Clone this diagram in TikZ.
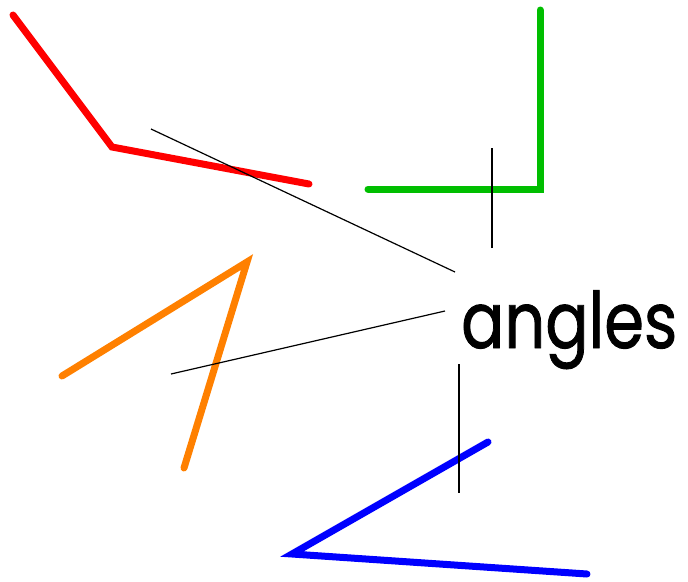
\documentclass[tikz,border=0pt]{standalone}
\usepackage{fontspec}
\setmainfont{Poppins}[FakeBold=1.2]
\usepackage{xcolor}
\usepackage{tikz}
\usetikzlibrary{calc}
\definecolor{angred}{RGB}{255,0,0}
\definecolor{anggreen}{RGB}{0,190,0}
\definecolor{angorange}{RGB}{255,128,0}
\definecolor{angblue}{RGB}{0,0,255}

\begin{document}
\begin{tikzpicture}[x=1pt,y=-1pt,
  armline/.style={line width=7pt,line cap=round,line join=miter},
  pointer/.style={line width=1.2pt,black}]
  \useasboundingbox (0,0) rectangle (688,581);
  % the label
  \node[font=\fontsize{78}{80}\selectfont,inner sep=0pt,xscale=0.82,anchor=base west] (lbl) at (461,348) {angles};
  % the four angles
  \draw[armline,angred] (13,15) -- (112,147) -- (309,184);
  \draw[armline,anggreen] (540,10) -- (540,189) -- (368,189);
  \draw[armline,angorange] (62,376) -- (247,262) -- (184,468);
  \draw[armline,angblue] (488,442) -- (292,554) -- (587,574);
  % pointer ends
  \coordinate (redfrom) at (455,272);   \coordinate (redto) at (151,129);
  \coordinate (greenfrom) at (492,248); \coordinate (greento) at (492,148);
  \coordinate (orangefrom) at (445,311); \coordinate (orangeto) at (171,374);
  \coordinate (bluefrom) at (459,364);  \coordinate (blueto) at (459,493);
  \draw[pointer] (redfrom) -- (redto);
  \draw[pointer] (greenfrom) -- (greento);
  \draw[pointer] (orangefrom) -- (orangeto);
  \draw[pointer] (bluefrom) -- (blueto);
\end{tikzpicture}
\end{document}
